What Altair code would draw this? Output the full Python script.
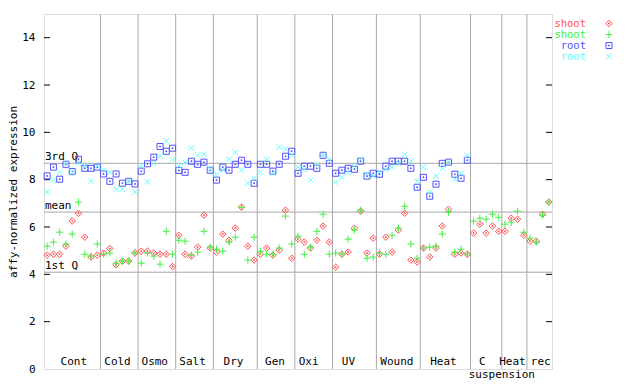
import altair as alt
import pandas as pd
import numpy as np

# ---------------- data ----------------
groups = ["Cont", "Cold", "Osmo", "Salt", "Dry", "Gen", "Oxi", "UV", "Wound",
          "Heat", "C", "Heat", "rec"]
group_sizes = [9, 6, 6, 6, 7, 6, 6, 7, 7, 8, 5, 4, 4]
# label centre positions (sample-index units) as drawn in the reference
group_label_pos = [4.25, 11.22, 17.16, 23.19, 29.72, 36.33, 41.7, 48.05, 55.76,
                   63.19, 69.4, 74.2, 78.7]
extra_label = "suspension"
extra_label_pos = 72.5

shoot_diamond = [4.81, 4.85, 4.85, 5.19, 6.25, 6.58, 5.57, 4.73, 4.81,
                 4.90, 5.09, 4.40, 4.56, 4.56, 4.90,
                 4.98, 4.98, 4.90, 4.85, 4.85, 4.33,
                 5.65, 4.85, 4.77, 5.15, 6.50, 5.11,
                 4.94, 5.70, 5.44, 5.95, 6.84, 5.19, 4.60,
                 4.85, 5.11, 4.81, 5.02, 6.71, 4.68,
                 5.49, 5.36, 5.11, 5.44, 6.04, 5.36,
                 4.30, 4.85, 4.94, 5.95, 6.67, 4.90, 5.53,
                 4.85, 5.57, 4.94, 5.87, 6.58, 4.60, 4.52,
                 5.11, 4.73, 5.11, 6.04, 6.75, 4.85, 4.90, 4.85,
                 5.74, 6.12, 5.74, 6.04, 5.82,
                 5.82, 6.37, 6.33, 5.65,
                 5.40, 5.40, 6.54, 7.05]
shoot_plus = [5.19, 5.36, 5.78, 5.28, 5.70, 7.05, 4.85, 4.77, 5.28,
              4.85, 4.90, 4.47, 4.56, 4.56, 4.90,
              4.47, 4.90, 4.77, 4.43, 5.82, 4.85,
              5.44, 5.40, 4.81, 4.94, 5.82, 5.15,
              5.06, 4.98, 5.36, 5.57, 6.84, 4.60, 5.57,
              4.98, 4.85, 4.85, 5.11, 6.46, 5.28,
              5.61, 4.85, 5.15, 5.82, 6.54, 4.85,
              4.90, 4.85, 5.49, 5.87, 6.71, 4.68, 4.73,
              4.90, 4.85, 5.65, 5.95, 6.88, 5.28, 4.68,
              5.11, 5.15, 5.19, 5.70, 6.63, 4.94, 5.06, 4.85,
              6.25, 6.37, 6.33, 6.54, 6.41,
              6.12, 6.20, 6.67, 5.78,
              5.53, 5.36, 6.50, 7.05]
root_square = [8.16, 8.53, 8.02, 8.65, 8.34, 8.86, 8.48, 8.48, 8.53,
               8.24, 7.93, 8.24, 7.85, 7.93, 7.82,
               8.36, 8.67, 8.95, 9.40, 9.20, 9.33,
               8.39, 8.31, 8.78, 8.65, 8.74, 8.40,
               7.98, 8.53, 8.40, 8.65, 8.82, 8.65, 7.85,
               8.65, 8.65, 8.36, 8.65, 8.99, 9.20,
               8.27, 8.57, 8.57, 8.48, 9.03, 8.69,
               8.27, 8.40, 8.48, 8.44, 8.78, 8.15, 8.27,
               8.23, 8.57, 8.78, 8.78, 8.78, 8.48, 7.68,
               8.10, 7.30, 7.81, 8.69, 8.74, 8.23, 8.06, 8.82]
root_cross = [7.48, 7.98, 8.31, 8.69, 8.31, 8.69, 8.58, 7.93, 8.58,
              8.41, 8.31, 7.60, 7.60, 7.93, 7.48,
              8.58, 7.91, 8.69, 9.00, 9.64, 8.84,
              8.58, 8.74, 9.33, 9.03, 9.07, 8.44,
              8.23, 8.40, 8.86, 9.16, 8.40, 7.85, 8.06,
              8.31, 8.86, 8.27, 9.37, 9.29, 9.03,
              8.53, 8.44, 7.98, 8.65, 9.03, 8.86,
              7.89, 8.10, 8.31, 8.57, 8.86, 8.23, 8.15,
              8.31, 8.44, 8.53, 8.69, 9.07, 8.78, 7.93,
              8.53, 7.47, 8.15, 8.48, 8.74, 8.02, 8.27, 9.03]

stat_names = ["3rd Q", "mean", "1st Q"]
stat_values = [8.69, 6.63, 4.09]
y_ticks = [0, 2, 4, 6, 8, 10, 12, 14]

legend_labels = ["shoot", "shoot", "root", "root"]

# ---------------- styling ----------------
FONT = "DejaVu Sans Mono"
W, H = 508, 355
RED, GREEN, BLUE, CYAN = "#ff5050", "#40f040", "#5050ff", "#60ffff"
GRID = "#a8a8a8"

P_DIAMOND = "M0,-1L1,0L0,1L-1,0Z M-0.15,-0.15L0.15,-0.15L0.15,0.15L-0.15,0.15Z"
P_SQUARE = "M-1,-1L1,-1L1,1L-1,1Z M-0.15,-0.15L0.15,-0.15L0.15,0.15L-0.15,0.15Z"
P_PLUS = "M-1,0L1,0M0,-1L0,1"
P_CROSS = "M-1,-1L1,1M-1,1L1,-1"

xs = alt.Scale(domain=[-0.5, 80.5], nice=False, zero=False)
ys = alt.Scale(domain=[0, 15], nice=False)

yaxis = alt.Axis(values=y_ticks, ticks=False, domain=False, grid=False,
                 labelFont=FONT, labelFontSize=11, labelColor="black",
                 labelPadding=9, title="affy-normalized expression",
                 titleFont=FONT, titleFontSize=11, titleFontWeight="normal",
                 titleColor="black", titlePadding=3)


def X(f="i"):
    return alt.X(f"{f}:Q", scale=xs, axis=None)


def Y(f="v"):
    return alt.Y(f"{f}:Q", scale=ys, axis=yaxis)


def series(vals):
    return pd.DataFrame({"i": np.arange(len(vals)), "v": vals})


bounds = list(np.cumsum(group_sizes)[:-1] - 0.5)

vsep = alt.Chart(pd.DataFrame({"b": bounds, "v": [0] * len(bounds)})).mark_rule(
    color=GRID, strokeWidth=1).encode(x=X("b"))

hstat = alt.Chart(pd.DataFrame({"name": stat_names, "v": stat_values})).mark_rule(
    color=GRID, strokeWidth=1).encode(y=Y("v"))

stat_text = alt.Chart(pd.DataFrame({"name": stat_names, "v": stat_values})).mark_text(
    font=FONT, fontSize=11, align="left", baseline="alphabetic", dy=-3, color="black"
).encode(x=alt.value(1), y=Y("v"), text="name:N")

ticks_df = pd.DataFrame({"v": y_ticks[1:]})
lticks = alt.Chart(ticks_df).mark_rule(color="black").encode(
    x=alt.value(0), x2=alt.value(6), y=Y("v"))
rticks = alt.Chart(ticks_df).mark_rule(color="black").encode(
    x=alt.value(W - 6), x2=alt.value(W), y=Y("v"))

glabels = alt.Chart(pd.DataFrame({"g": groups, "p": group_label_pos, "v": [0] * len(groups)})
                    ).mark_text(font=FONT, fontSize=11, baseline="alphabetic", dy=-4,
                                color="black").encode(x=X("p"), y=Y("v"), text="g:N")
elabel = alt.Chart(pd.DataFrame({"g": [extra_label], "p": [extra_label_pos], "v": [0]})
                   ).mark_text(font=FONT, fontSize=11, baseline="alphabetic", dy=9,
                               color="black").encode(x=X("p"), y=Y("v"), text="g:N")


def pts(vals, path, color, size):
    return alt.Chart(series(vals)).mark_point(
        shape=path, color=color, filled=False, size=size, strokeWidth=1, opacity=1
    ).encode(x=X("i"), y=Y("v"))


layers = [hstat, vsep, stat_text, lticks, rticks, glabels, elabel,
          pts(shoot_diamond, P_DIAMOND, RED, 42),
          pts(shoot_plus, P_PLUS, GREEN, 49),
          pts(root_square, P_SQUARE, BLUE, 36),
          pts(root_cross, P_CROSS, CYAN, 30)]

# manual legend (labels left, symbols right), outside the plot area
leg_colors = [RED, GREEN, BLUE, CYAN]
leg_paths = [P_DIAMOND, P_PLUS, P_SQUARE, P_CROSS]
leg_sizes = [42, 49, 36, 30]
for k, (lab, col, pth, sz) in enumerate(zip(legend_labels, leg_colors, leg_paths, leg_sizes)):
    yy = 9.5 + 11 * k
    layers.append(alt.Chart(pd.DataFrame({"t": [lab]})).mark_text(
        font=FONT, fontSize=10.5, align="right", baseline="middle", color=col
    ).encode(x=alt.value(542), y=alt.value(yy), text="t:N"))
    layers.append(alt.Chart(pd.DataFrame({"t": [lab]})).mark_point(
        shape=pth, color=col, filled=False, size=sz, strokeWidth=1, opacity=1
    ).encode(x=alt.value(565), y=alt.value(yy)))

chart = alt.layer(*layers).properties(
    width=W, height=H,
    autosize=alt.AutoSizeParams(type="none"),
    padding={"left": 36, "top": 6, "right": 80, "bottom": 14},
).configure_view(stroke="black", strokeWidth=1).configure(background="white")

chart.save("out.html", embed_options={"renderer": "svg", "actions": False})
